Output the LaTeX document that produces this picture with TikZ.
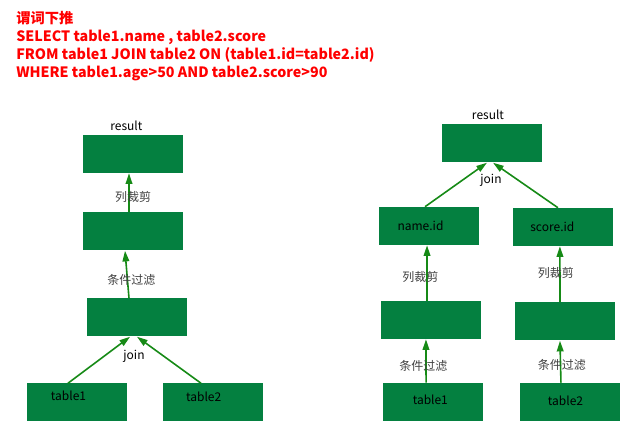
\documentclass[tikz,border=0pt]{standalone}
\usepackage{fontspec}
\newfontfamily\cjk{Noto Sans CJK SC}
\usetikzlibrary{arrows.meta}
\definecolor{opgreen}{RGB}{4,128,64}
\definecolor{flowgreen}{RGB}{22,138,22}
\definecolor{sqlred}{RGB}{255,0,0}
\definecolor{stagegray}{RGB}{64,64,64}

\begin{document}
\begin{tikzpicture}[x=0.75pt,y=-0.75pt,
	op/.style={rectangle,fill=opgreen,minimum width=75pt,minimum height=28.5pt,inner sep=0pt},
	optext/.style={font=\cjk\fontsize{9}{10}\selectfont,text=black,inner sep=0pt},
	flow/.style={-{Triangle[length=8pt,width=5pt]},flowgreen,line width=1.2pt},
	stage/.style={font=\cjk\fontsize{9}{10}\selectfont,text=stagegray,inner sep=1pt}]
	\useasboundingbox (0,0) rectangle (637,435);
	% query
	\node[anchor=north west,align=left,text=sqlred,font=\cjk\bfseries\fontsize{10.7}{13.6}\selectfont,inner sep=0pt] (sql) at (16,11)
		{谓词下推\\SELECT table1.name , table2.score\\FROM table1 JOIN table2 ON (table1.id=table2.id)\\WHERE table1.age>50 AND table2.score>90};
	% plan without pushdown
	\path (133,154) node[op,label={[optext,xshift=-5pt,yshift=3pt]above:result}] (res) {}
		(133,231.5) node[op] (prune) {}
		(137,317.5) node[op] (filt) {}
		(76.5,402.5) node[op,label={[optext,xshift=-6pt,yshift=5pt]center:table1}] (t1) {}
		(213,402.5) node[op,label={[optext,xshift=-7pt,yshift=4pt]center:table2}] (t2) {};
	\draw[flow] ([xshift=-3pt]prune.north) -- node[stage,pos=0.4,xshift=3pt] {列裁剪} ([xshift=-3pt]res.south);
	\draw[flow] ([xshift=-6pt]filt.north) -- node[stage,pos=0.38,xshift=3pt] {条件过滤} ([xshift=-6pt]prune.south);
	\draw[flow] ([xshift=-6.4pt]t1.north) -- ([xshift=-5.2pt]filt.south);
	\draw[flow] ([xshift=-9pt]t2.north) -- (filt.south);
	\node[optext] (join1) at (134,356) {join};
	% plan with pushdown
	\path (492,143.5) node[op,label={[optext,xshift=-3pt,yshift=3pt]above:result}] (rres) {}
		(428.5,226) node[op,label={[optext,xshift=-6pt]center:name.id}] (nid) {}
		(563,227) node[op,label={[optext,xshift=-8pt]center:score.id}] (sid) {}
		(430.5,320) node[op] (rp1) {}
		(564.5,321.5) node[op] (rp2) {}
		(433,402) node[op,label={[optext,xshift=-2pt,yshift=2pt]center:table1}] (rt1) {}
		(569.5,402) node[op,label={[optext,xshift=-3pt,yshift=1pt]center:table2}] (rt2) {};
	\draw[flow] ([xshift=-2.6pt]nid.north) -- ([xshift=-3.8pt]rres.south);
	\draw[flow] ([xshift=-3.8pt]sid.north) -- ([xshift=0.8pt]rres.south);
	\node[optext] (join2) at (491,180) {join};
	\draw[flow] ([xshift=-2.6pt]rp1.north) -- node[stage,pos=0.43,xshift=-5pt] {列裁剪} ([xshift=-1.1pt]nid.south);
	\draw[flow] ([xshift=-3.4pt]rp2.north) -- node[stage,pos=0.52,xshift=-3pt] {列裁剪} ([xshift=-2.3pt]sid.south);
	\draw[flow] ([xshift=-5.2pt]rt1.north) -- node[stage,pos=0.39,xshift=-2pt] {条件过滤} ([xshift=-3.4pt]rp1.south);
	\draw[flow] ([xshift=-6.4pt]rt2.north) -- node[stage,pos=0.43,xshift=1pt] {条件过滤} ([xshift=-3.4pt]rp2.south);
\end{tikzpicture}
\end{document}
